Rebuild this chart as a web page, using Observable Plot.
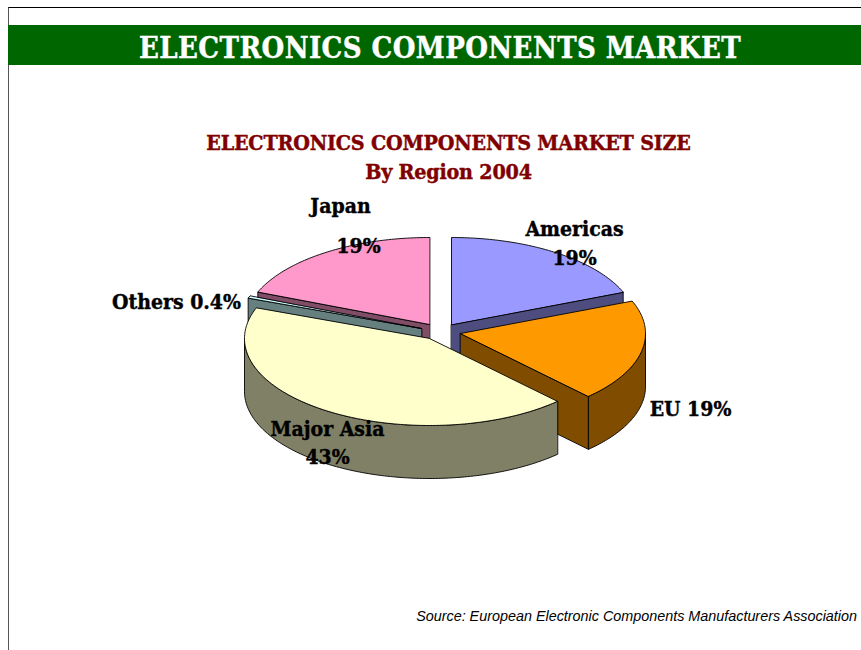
<!DOCTYPE html>
<html><head><meta charset="utf-8">
<script src="https://cdn.jsdelivr.net/npm/d3@7"></script>
<script src="https://cdn.jsdelivr.net/npm/@observablehq/plot@0.6"></script>
<style>
html,body{margin:0;padding:0;background:#fff;overflow:hidden}
#page{position:relative;width:861px;height:650px;overflow:hidden}
#frame{position:absolute;left:8px;top:7px;right:-2px;bottom:-2px;border-top:1px solid #000;border-left:1px solid #555}
.serif{font-family:"DejaVu Serif Condensed","DejaVu Serif",serif;font-weight:bold;font-stretch:condensed;white-space:nowrap;-webkit-text-stroke:0.4px currentColor}
#banner{position:absolute;left:8px;top:25px;width:853px;height:40px;background:#006600;color:#fff}
#banner span{position:absolute;left:131px;top:0;line-height:46px;font-size:29px;letter-spacing:0.42px}
.ct{position:absolute;left:0;width:897px;text-align:center;color:#800000;font-size:21.3px;line-height:28px;letter-spacing:-0.2px}
#source{position:absolute;right:4px;top:608px;font:italic 14.37px "Liberation Sans",Arial,sans-serif;color:#000;white-space:nowrap}
#chart{position:absolute;left:0;top:190px}
</style></head>
<body>
<div id="page">
<div id="frame"></div>
<div id="banner"><span class="serif">ELECTRONICS COMPONENTS MARKET</span></div>
<div class="ct serif" style="top:129px">ELECTRONICS COMPONENTS MARKET SIZE</div>
<div class="ct serif" style="top:158px">By Region 2004</div>
<div id="chart"></div>
<div id="source">Source: European Electronic Components Manufacturers Association</div>
</div>
<script>
// Data, clockwise from 12 o'clock
const regions = ["Americas", "EU", "Major Asia", "Others", "Japan"];
const shares = [19, 19, 43, 0.4, 19];
const shareLabels = ["19%", "19%", "43%", "0.4%", "19%"];

// Styling
const topColors = ["#9999FF", "#FF9900", "#FFFFCC", "#CCFFFF", "#FF99CC"];
const sideColors = ["#4D4D80", "#804D00", "#808066", "#668080", "#804D66"];

// Layout of the exploded, tilted pie (in page pixels)
const offsetX = [451, 460, 429, 421, 429];
const offsetY = [324, 333, 338, 328, 324];
const radiusX = 185, radiusY = 87, depth = 53, svgTop = 190;
const drawOrder = ["Americas", "Japan", "Others", "EU", "Major Asia"];

const total = d3.sum(shares);
let acc = 0;
const slices = regions.map((name, i) => {
  const a0 = acc; acc += shares[i] / total * 360;
  return {name, a0, a1: acc, cx: offsetX[i], cy: offsetY[i], top: topColors[i], side: sideColors[i]};
});
const rad = (a) => a * Math.PI / 180;
const px = (s, a) => s.cx + radiusX * Math.sin(rad(a));
const py = (s, a) => s.cy - radiusY * Math.cos(rad(a));
const arc = (s, a0, a1) => {
  const n = Math.max(2, Math.ceil(a1 - a0) + 1);
  return d3.range(n).map(k => { const a = a0 + (a1 - a0) * k / (n - 1); return [px(s, a), py(s, a)]; });
};

const rings = [];
const push = (id, color, pts) => pts.forEach(([x, y]) => rings.push({id, color, x, y}));
for (const name of drawOrder) {
  const s = slices.find(d => d.name === name);
  if (Math.sin(rad(s.a0)) < -1e-6) {
    const a = [px(s, s.a0), py(s, s.a0)];
    push(name + "-startface", s.side, [[s.cx, s.cy], a, [a[0], a[1] + depth], [s.cx, s.cy + depth]]);
  }
  if (Math.sin(rad(s.a1)) > 1e-6) {
    const a = [px(s, s.a1), py(s, s.a1)];
    push(name + "-endface", s.side, [[s.cx, s.cy], a, [a[0], a[1] + depth], [s.cx, s.cy + depth]]);
  }
  const w0 = Math.max(s.a0, 90), w1 = Math.min(s.a1, 270);
  if (w1 > w0) {
    const edge = arc(s, w0, w1);
    push(name + "-wall", s.side, [...edge, ...edge.slice().reverse().map(([x, y]) => [x, y + depth])]);
  }
  push(name + "-top", s.top, [[s.cx, s.cy], ...arc(s, s.a0, s.a1)]);
}

// Label positions (page pixels)
const labels = [
  {text: regions[4], x: 340, y: 206},
  {text: shareLabels[4], x: 358, y: 246},
  {text: regions[0], x: 574, y: 229},
  {text: shareLabels[0], x: 574, y: 258},
  {text: regions[3] + " " + shareLabels[3], x: 176, y: 302},
  {text: regions[1] + " " + shareLabels[1], x: 690, y: 409},
  {text: regions[2], x: 327, y: 429},
  {text: shareLabels[2], x: 327, y: 457}
];

const chart = Plot.plot({
  width: 861, height: 300,
  margin: 0,
  x: {domain: [0, 861], range: [0, 861], axis: null},
  y: {domain: [svgTop, svgTop + 300], range: [0, 300], axis: null},
  color: {type: "identity"},
  style: {background: "transparent", overflow: "visible"},
  marks: [
    Plot.line(rings, {x: "x", y: "y", z: "id", fill: "color", stroke: "#000", strokeWidth: 0.9, curve: "linear-closed", strokeLinejoin: "round"}),
    Plot.text(labels, {x: "x", y: "y", text: "text", fill: "#000", fontSize: 21, fontWeight: "bold",
      fontFamily: '"DejaVu Serif Condensed","DejaVu Serif",serif', stroke: "#000", strokeWidth: 0.4})
  ]
});
document.getElementById("chart").append(chart);
</script>
</body></html>
